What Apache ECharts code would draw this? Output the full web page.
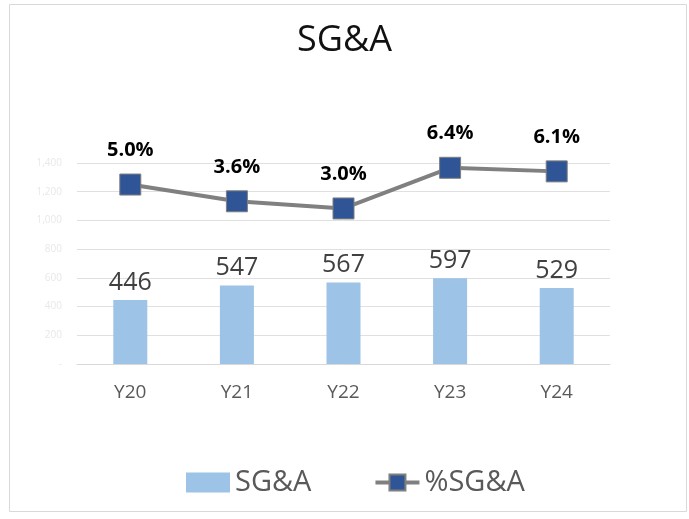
<!DOCTYPE html>
<html>
<head>
<meta charset="utf-8">
<script src="https://cdn.jsdelivr.net/npm/echarts@6/dist/echarts.min.js"></script>
<style>
html,body{margin:0;padding:0;background:#fff;}
#chart{width:689px;height:519px;}
</style>
</head>
<body>
<div id="chart"></div>
<script>
const categories = ['Y20', 'Y21', 'Y22', 'Y23', 'Y24'];
const sgaValues = [446, 547, 567, 597, 529];
const sgaPct = [5.0, 3.6, 3.0, 6.4, 6.1];
const leftTicks = [0, 200, 400, 600, 800, 1000, 1200, 1400];

const FONT = '"Open Sans", "Liberation Sans", sans-serif';
const chart = echarts.init(document.getElementById('chart'), null, {renderer: 'canvas'});
chart.setOption({
  backgroundColor: '#ffffff',
  animation: false,
  title: {
    text: 'SG&A',
    left: 'center',
    top: 18,
    textStyle: {fontFamily: FONT, fontSize: 36, fontWeight: 'normal', color: '#111'}
  },
  graphic: [{
    type: 'rect',
    shape: {x: 9.5, y: 4.5, width: 677, height: 507},
    style: {fill: 'none', stroke: '#d9d9d9', lineWidth: 1},
    silent: true
  }],
  legend: {
    left: 181,
    top: 463,
    itemWidth: 44,
    itemHeight: 20,
    itemGap: 62,
    textStyle: {fontFamily: FONT, fontSize: 29, color: '#595959'},
    data: [
      {name: 'SG&A', icon: 'rect'},
      {name: '%SG&A', lineStyle: {width: 4, color: '#808080'}}
    ]
  },
  grid: {left: 77, right: 79, top: 163, bottom: 155},
  xAxis: {
    type: 'category',
    data: categories,
    axisTick: {show: false},
    axisLine: {lineStyle: {color: '#d9d9d9', width: 1}},
    axisLabel: {fontFamily: FONT, fontSize: 19, color: '#595959', margin: 19}
  },
  yAxis: [{
    type: 'value',
    min: leftTicks[0],
    max: leftTicks[leftTicks.length - 1],
    interval: 200,
    axisLine: {show: false},
    axisTick: {show: false},
    splitLine: {lineStyle: {color: '#e0e0e0', width: 1}},
    axisLabel: {
      fontFamily: FONT, fontSize: 10, color: '#e8e8e8', margin: 15,
      formatter: v => v === 0 ? '-' : v.toLocaleString('en-US')
    }
  }, {
    type: 'value',
    min: -10,
    max: 6.8,
    show: false,
    splitLine: {show: false},
    alignTicks: false
  }],
  series: [{
    name: 'SG&A',
    type: 'bar',
    data: sgaValues,
    barWidth: 34,
    itemStyle: {color: '#9DC3E6'},
    label: {
      show: true, position: 'top', distance: 5,
      fontFamily: FONT, fontSize: 25, color: '#404040'
    }
  }, {
    name: '%SG&A',
    type: 'line',
    yAxisIndex: 1,
    data: sgaPct,
    symbol: 'rect',
    symbolSize: 21,
    lineStyle: {color: '#808080', width: 4},
    itemStyle: {color: '#2F5597', borderColor: '#7f7f7f', borderWidth: 1},
    label: {
      show: true, position: 'top', distance: 13,
      fontFamily: FONT, fontSize: 20, fontWeight: 'bold', color: '#000',
      formatter: p => p.value.toFixed(1) + '%'
    }
  }]
});
</script>
</body>
</html>
